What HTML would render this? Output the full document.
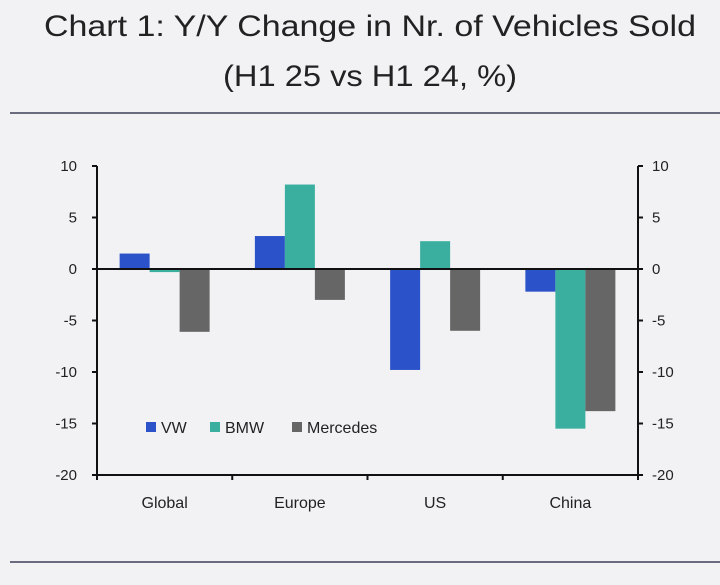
<!DOCTYPE html>
<html><head><meta charset="utf-8"><style>
html,body{margin:0;padding:0;background:#f2f2f4;}
body{width:720px;height:580px;overflow:hidden;font-family:"Liberation Sans","DejaVu Sans",sans-serif;}
</style></head><body>
<svg width="720" height="580" xmlns="http://www.w3.org/2000/svg">
<rect width="720" height="580" fill="#f2f2f4"/>
<text x="370" y="36" text-anchor="middle" font-size="30" fill="#222" textLength="652" lengthAdjust="spacingAndGlyphs">Chart 1: Y/Y Change in Nr. of Vehicles Sold</text>
<text x="370" y="86" text-anchor="middle" font-size="30" fill="#222" textLength="294" lengthAdjust="spacingAndGlyphs">(H1 25 vs H1 24, %)</text>
<line x1="10" y1="113" x2="720" y2="113" stroke="#6b6b80" stroke-width="2"/>
<line x1="10" y1="562" x2="720" y2="562" stroke="#6b6b80" stroke-width="2"/>
<g id="plot"></g>
</svg>
<script>
const categories=["Global","Europe","US","China"];
const seriesNames=["VW","BMW","Mercedes"];
const vw=[1.5,3.2,-9.8,-2.2];
const bmw=[-0.3,8.2,2.7,-15.5];
const mercedes=[-6.1,-3.0,-6.0,-13.8];
const yTicks=[10,5,0,-5,-10,-15,-20];
const colors=["#2b52c8","#3aafa0","#666666"];
const NS="http://www.w3.org/2000/svg";
const g=document.getElementById('plot');
const x0=97,x1=638,yTop=166,yBot=475,vMax=10,vMin=-20;
const y=v=>yTop+(vMax-v)/(vMax-vMin)*(yBot-yTop);
const gw=(x1-x0)/categories.length;
const bw=30;
function mk(t,a){const e=document.createElementNS(NS,t);for(const k in a)e.setAttribute(k,a[k]);g.appendChild(e);return e;}
const data=[vw,bmw,mercedes];
data.forEach((s,si)=>{s.forEach((v,ci)=>{
 const cx=x0+gw*(ci+0.5);
 const bx=cx-1.5*bw+si*bw;
 const r=mk('rect',{x:bx,y:Math.min(y(v),y(0)),width:bw,height:Math.max(Math.abs(y(v)-y(0)),1),fill:colors[si]});
 
 
});});
let a=mk('line',{x1:x0,y1:yTop,x2:x0,y2:yBot,stroke:'#111','stroke-width':2});

a=mk('line',{x1:x1,y1:yTop,x2:x1,y2:yBot,stroke:'#111','stroke-width':2});

a=mk('line',{x1:x0,y1:yBot,x2:x1,y2:yBot,stroke:'#111','stroke-width':2});

a=mk('line',{x1:x0,y1:y(0),x2:x1,y2:y(0),stroke:'#111','stroke-width':2});

yTicks.forEach(t=>{
 const yy=y(t);
 mk('line',{x1:x0-5,y1:yy,x2:x0,y2:yy,stroke:'#111','stroke-width':2});
 mk('line',{x1:x1,y1:yy,x2:x1+5,y2:yy,stroke:'#111','stroke-width':2});
 let l=mk('text',{x:x0-20,y:yy+5,'text-anchor':'end','font-size':15,fill:'#222'});l.textContent=t;
 
 l=mk('text',{x:x1+14,y:yy+5,'text-anchor':'start','font-size':15,fill:'#222'});l.textContent=t;
 
});
for(let i=0;i<=categories.length;i++){const xx=x0+gw*i;mk('line',{x1:xx,y1:yBot,x2:xx,y2:yBot+5,stroke:'#111','stroke-width':2});}
categories.forEach((c,i)=>{
 const l=mk('text',{x:x0+gw*(i+0.5),y:508,'text-anchor':'middle','font-size':16,fill:'#222'});l.textContent=c;
 
});
const legX=[146,210,292];
seriesNames.forEach((n,i)=>{
 const r=mk('rect',{x:legX[i],y:422,width:10,height:10,fill:colors[i]});
 
 const t=mk('text',{x:legX[i]+15,y:433,'font-size':16,fill:'#222'});t.textContent=n;
 
});
</script>
</body></html>
